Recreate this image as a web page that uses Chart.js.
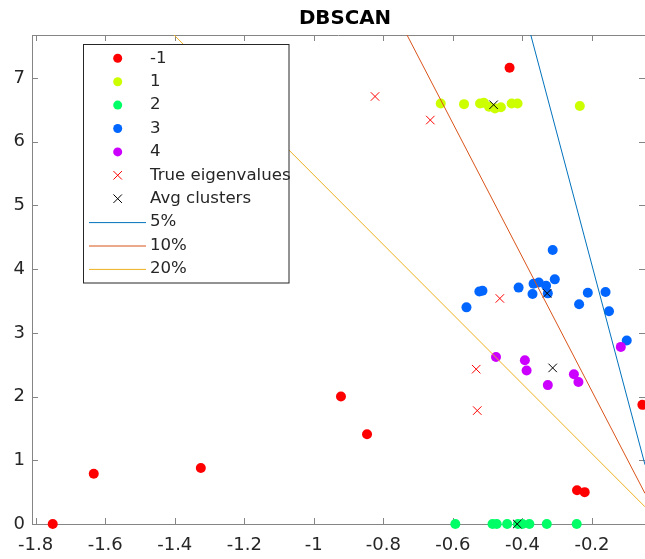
<!DOCTYPE html>
<html>
<head>
<meta charset="utf-8">
<title>DBSCAN</title>
<script src="https://cdn.jsdelivr.net/npm/chart.js@4.4.1/dist/chart.umd.min.js"></script>
<style>
  html, body { margin: 0; padding: 0; background: #fff; }
</style>
</head>
<body>
<canvas id="dbscanChart" width="645" height="559"></canvas>
<script>
// axis ticks and limits
const xTicks = [-1.8, -1.6, -1.4, -1.2, -1, -0.8, -0.6, -0.4, -0.2];
const yTicks = [0, 1, 2, 3, 4, 5, 6, 7];
const xLimits = [-1.8106, -0.0475];
const yLimits = [0, 7.675];

// cluster -1 (noise)
const noiseX = [-1.751, -1.633, -1.325, -0.922, -0.847, -0.437, -0.243, -0.221, -0.055];
const noiseY = [0, 0.79, 0.88, 2.0, 1.41, 7.16, 0.53, 0.50, 1.87];
// cluster 1
const c1X = [-0.635, -0.568, -0.522, -0.511, -0.496, -0.479, -0.462, -0.431, -0.414, -0.235];
const c1Y = [6.60, 6.59, 6.60, 6.61, 6.55, 6.52, 6.54, 6.60, 6.60, 6.56];
// cluster 2
const c2X = [-0.593, -0.486, -0.474, -0.444, -0.413, -0.400, -0.380, -0.330, -0.244];
const c2Y = [0, 0, 0, 0, 0, 0, 0, 0, 0];
// cluster 3
const c3X = [-0.313, -0.307, -0.411, -0.368, -0.353, -0.332, -0.371, -0.327, -0.524, -0.515, -0.561, -0.212, -0.161, -0.237, -0.151, -0.100];
const c3Y = [4.30, 3.84, 3.71, 3.77, 3.79, 3.74, 3.61, 3.62, 3.65, 3.66, 3.40, 3.63, 3.64, 3.45, 3.34, 2.88];
// cluster 4
const c4X = [-0.117, -0.476, -0.393, -0.388, -0.252, -0.239, -0.327];
const c4Y = [2.78, 2.62, 2.57, 2.41, 2.35, 2.23, 2.18];
// true eigenvalues and cluster averages
const trueX = [-0.824, -0.665, -0.465, -0.533, -0.530];
const trueY = [6.71, 6.34, 3.54, 2.43, 1.78];
const avgX = [-0.483, -0.329, -0.313, -0.415];
const avgY = [6.58, 3.62, 2.45, 0];
// threshold lines
const line5X = [-0.376, -0.0475];
const line5Y = [7.675, 0.93];
const line10X = [-0.732, -0.0475];
const line10Y = [7.675, 0.48];
const line20X = [-1.402, -0.0475];
const line20Y = [7.675, 0.27];

const pts = (xs, ys) => xs.map((v, i) => ({ x: v, y: ys[i] }));

function dots(label, xs, ys, color) {
    return {
        label: label, data: pts(xs, ys), pointStyle: 'circle', pointRadius: 5,
        backgroundColor: color, borderColor: color, borderWidth: 0, clip: false
    };
}
function crosses(label, xs, ys, color) {
    return {
        label: label, data: pts(xs, ys), pointStyle: 'crossRot', pointRadius: 6,
        backgroundColor: color, borderColor: color, borderWidth: 1, clip: false
    };
}
function line(label, xs, ys, color) {
    return {
        label: label, data: pts(xs, ys), showLine: true, pointRadius: 0,
        borderColor: color, backgroundColor: color, borderWidth: 1
    };
}

const datasets = [
    dots('-1', noiseX, noiseY, '#ff0000'),
    dots('1', c1X, c1Y, '#ccff00'),
    dots('2', c2X, c2Y, '#00ff66'),
    dots('3', c3X, c3Y, '#0066ff'),
    dots('4', c4X, c4Y, '#cc00ff'),
    crosses('True eigenvalues', trueX, trueY, '#ff0000'),
    crosses('Avg clusters', avgX, avgY, '#000000'),
    line('5%', line5X, line5Y, '#0072bd'),
    line('10%', line10X, line10Y, '#d95319'),
    line('20%', line20X, line20Y, '#edb120')
];
// later datasets on top, like MATLAB's plot order
datasets.forEach((d, i) => { d.order = datasets.length - i; });

const axisColor = '#858585';
const textColor = '#262626';

// inward ticks, top border and right ticks
const frame = {
    id: 'frame',
    beforeDatasetsDraw(chart) {
        const { ctx, chartArea: a, scales: { x, y } } = chart;
        ctx.save();
        ctx.strokeStyle = axisColor;
        ctx.lineWidth = 1;
        ctx.beginPath();
        ctx.moveTo(a.left, a.top + 0.5);
        ctx.lineTo(a.right, a.top + 0.5);
        xTicks.forEach(v => {
            const px = Math.round(x.getPixelForValue(v)) + 0.5;
            ctx.moveTo(px, a.bottom); ctx.lineTo(px, a.bottom - 6);
            ctx.moveTo(px, a.top); ctx.lineTo(px, a.top + 6);
        });
        yTicks.forEach(v => {
            const py = Math.round(y.getPixelForValue(v)) + 0.5;
            ctx.moveTo(a.left, py); ctx.lineTo(a.left + 6, py);
            ctx.moveTo(a.right, py); ctx.lineTo(a.right - 6, py);
        });
        ctx.stroke();
        ctx.restore();
    }
};

// title and boxed legend inside the axes
const overlay = {
    id: 'overlay',
    afterDraw(chart) {
        const ctx = chart.ctx;
        ctx.save();
        ctx.fillStyle = '#000';
        ctx.font = 'bold 19.8px "DejaVu Sans"';
        ctx.textAlign = 'center';
        ctx.textBaseline = 'middle';
        ctx.fillText('DBSCAN', 345, 19);

        ctx.fillStyle = '#fff';
        ctx.strokeStyle = textColor;
        ctx.lineWidth = 1;
        ctx.fillRect(83.5, 44.5, 205.5, 238.5);
        ctx.strokeRect(83.5, 44.5, 205.5, 238.5);

        ctx.font = '16.6px "DejaVu Sans"';
        ctx.textAlign = 'left';
        chart.data.datasets.forEach((d, i) => {
            const ry = 58.3 + i * 23.4;
            ctx.strokeStyle = d.borderColor;
            ctx.fillStyle = d.backgroundColor;
            if (d.showLine) {
                ctx.lineWidth = 1;
                ctx.beginPath();
                ctx.moveTo(89, ry + 0.5);
                ctx.lineTo(146, ry + 0.5);
                ctx.stroke();
            } else {
                ctx.lineWidth = d.borderWidth;
                Chart.helpers.drawPoint(ctx, {
                    pointStyle: d.pointStyle, radius: d.pointStyle === 'circle' ? 4.5 : 6,
                    borderWidth: d.borderWidth, rotation: 0
                }, 117.7, ry);
            }
            ctx.fillStyle = textColor;
            ctx.fillText(d.label, 150, ry);
        });
        ctx.restore();
    }
};

const tickFont = { family: 'DejaVu Sans', size: 18 };
const fmt = v => String(Math.round(v * 10) / 10);

new Chart(document.getElementById('dbscanChart').getContext('2d'), {
    type: 'scatter',
    data: { datasets: datasets },
    options: {
        responsive: false,
        animation: false,
        devicePixelRatio: 1,
        layout: { autoPadding: false, padding: { top: 35, left: 0, right: 0, bottom: 0 } },
        plugins: { legend: { display: false }, tooltip: { enabled: false }, title: { display: false } },
        scales: {
            x: {
                type: 'linear', min: xLimits[0], max: xLimits[1],
                afterBuildTicks: s => { s.ticks = xTicks.map(v => ({ value: v })); },
                afterFit: s => { s.height = 35; s.paddingLeft = 0; s.paddingRight = 0; },
                grid: { display: false, drawTicks: false },
                border: { display: true, color: axisColor, width: 1 },
                ticks: { font: tickFont, color: textColor, padding: 11, maxRotation: 0, autoSkip: false, callback: fmt }
            },
            y: {
                type: 'linear', min: yLimits[0], max: yLimits[1],
                afterBuildTicks: s => { s.ticks = yTicks.map(v => ({ value: v })); },
                afterFit: s => { s.width = 32; s.paddingTop = 0; s.paddingBottom = 0; },
                grid: { display: false, drawTicks: false },
                border: { display: true, color: axisColor, width: 1 },
                ticks: { font: tickFont, color: textColor, padding: 7, autoSkip: false, callback: fmt }
            }
        }
    },
    plugins: [frame, overlay]
});
</script>
</body>
</html>
